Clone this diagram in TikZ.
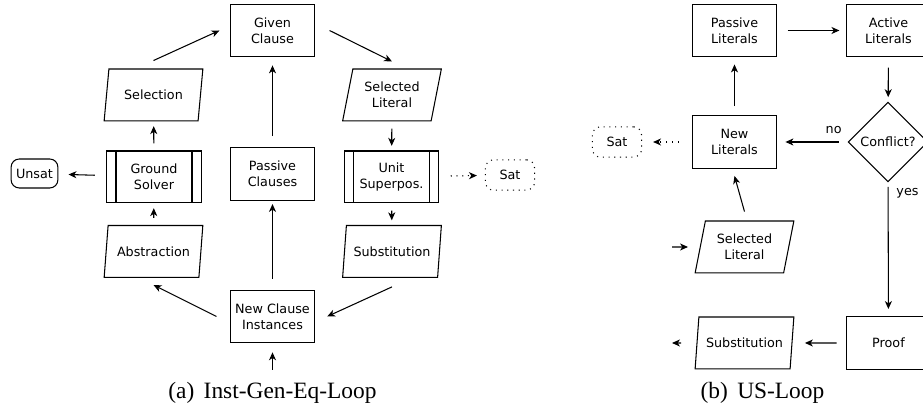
\documentclass[tikz,border=0pt]{standalone}
\usepackage{fontspec}
\setmainfont{Liberation Serif}
\newfontfamily\flowfont{DejaVu Sans}
\usetikzlibrary{shapes.geometric,arrows.meta}
\def\flowsize{\flowfont\fontsize{5.45}{6.8}\selectfont}
\def\capsize{\rmfamily\fontsize{10}{12}\selectfont}
\def\sidebars{\draw ([xshift=3.85pt]path picture bounding box.north west) -- ([xshift=3.85pt]path picture bounding box.south west)
	([xshift=-3.85pt]path picture bounding box.north east) -- ([xshift=-3.85pt]path picture bounding box.south east);}
\tikzset{
	every node/.style={font=\flowsize,align=center},
	block/.style={draw,rectangle,minimum width=36.3pt,minimum height=22.6pt,inner sep=1pt},
	subproc/.style={block,minimum width=40.2pt,minimum height=22.2pt,path picture={\sidebars}},
	io/.style={draw,trapezium,trapezium left angle=75,trapezium right angle=105,trapezium stretches=true,minimum width=42.3pt,minimum height=22.2pt,inner sep=0.5pt},
	term/.style={draw,rounded corners=3.5pt,minimum width=20pt,minimum height=12.4pt,inner sep=1pt},
	satterm/.style={term,dotted,minimum width=21pt,minimum height=13pt},
	decide/.style={draw,diamond,minimum width=34pt,minimum height=34pt,inner sep=0pt},
	link/.style={->,shorten <=3pt,shorten >=2pt}
}

\begin{document}
\begin{tikzpicture}[x=0.4274pt,y=-0.4274pt,line width=0.45pt,>={Stealth[length=3.4pt,width=3pt,inset=1pt]}]
	\clip (0,0) rectangle (923,411);
	% (a)
	\node[block] (given) at (272.5,30.5) {Given\\Clause};
	\node[io] (sel) at (153.5,95) {Selection};
	\node[io] (sellit) at (392,95) {Selected\\Literal};
	\node[subproc] (ground) at (154,177) {Ground\\Solver};
	\node[block] (passive) at (272.5,174) {Passive\\Clauses};
	\node[subproc] (unit) at (391.5,177) {Unit\\Superpos.};
	\node[term] (unsat) at (34.5,173.5) {Unsat};
	\node[satterm] (sata) at (510,175) {Sat};
	\node[io] (abs) at (153.5,251.5) {Abstraction};
	\node[io] (subst) at (392,251.5) {Substitution};
	\node[block] (new) at (272.5,316.5) {New Clause\\Instances};
	\coordinate (newin) at (272.5,370);
	\node[font=\capsize] (capa) at (272.5,393) {(a)\hspace{0.4em}Inst-Gen-Eq-Loop};

	\draw[->] ([yshift=3.4pt]sel.north) -- ([xshift=-4.3pt]given.west);
	\draw[->] ([xshift=6pt]given.east) -- ([yshift=3pt]sellit.north);
	\draw[link] (ground) -- (sel);
	\draw[link,shorten <=4.7pt,shorten >=3.4pt] (passive) -- (given);
	\draw[link] (sellit) -- (unit);
	\draw[link] (abs) -- (ground);
	\draw[link] (unit) -- (subst);
	\draw[->] ([xshift=-5.6pt]new.west) -- ([yshift=-3pt]abs.south);
	\draw[->] ([yshift=-3.8pt]subst.south) -- ([xshift=5pt]new.east);
	\draw[link,shorten <=4.7pt,shorten >=1.3pt] (new) -- (passive);
	\draw[link,shorten <=0pt,shorten >=3.8pt] (newin) -- (new);
	\draw[link,shorten <=5pt,shorten >=4.3pt] (ground) -- (unsat);
	\draw[link,dotted,shorten <=5pt,shorten >=3.4pt] (unit) -- (sata);

	% (b)
	\node[block] (pl) at (734.5,30.5) {Passive\\Literals};
	\node[block] (al) at (888.5,30.5) {Active\\Literals};
	\node[decide] (conf) at (888,142) {Conflict?};
	\node[block] (nl) at (734.5,142) {New\\Literals};
	\node[satterm] (satb) at (617,142) {Sat};
	\node[io] (slit) at (744.5,247) {Selected\\Literal};
	\coordinate (slitin) at (672,247);
	\node[block] (proof) at (888.5,343) {Proof};
	\node[io] (substb) at (744.5,343) {Substitution};
	\coordinate (substout) at (672,343);
	\node[font=\capsize] (capb) at (762.5,393) {(b)\hspace{0.4em}US-Loop};

	\draw[link,shorten <=4.3pt,shorten >=2.6pt] (pl) -- (al);
	\draw[link,shorten <=4.3pt,shorten >=2pt] (al) -- (conf);
	\draw[link,shorten <=3.8pt,shorten >=3.4pt] (conf) -- node[pos=0.2,above] {no} (nl);
	\draw[link,shorten <=2pt,shorten >=3pt] (conf) -- node[pos=0.08,right] {yes} (proof);
	\draw[link,shorten <=3.8pt,shorten >=3pt] (nl) -- (pl);
	\draw[link,dotted,shorten <=5.5pt,shorten >=4.7pt] (nl) -- (satb);
	\draw[->] ([yshift=3.8pt]slit.north) -- ([yshift=-3pt]nl.south);
	\draw[link,shorten <=0pt,shorten >=5pt] (slitin) -- (slit);
	\draw[link,shorten <=3.8pt,shorten >=5.3pt] (proof) -- (substb);
	\draw[link,shorten <=6.6pt,shorten >=0pt] (substb) -- (substout);
\end{tikzpicture}
\end{document}
